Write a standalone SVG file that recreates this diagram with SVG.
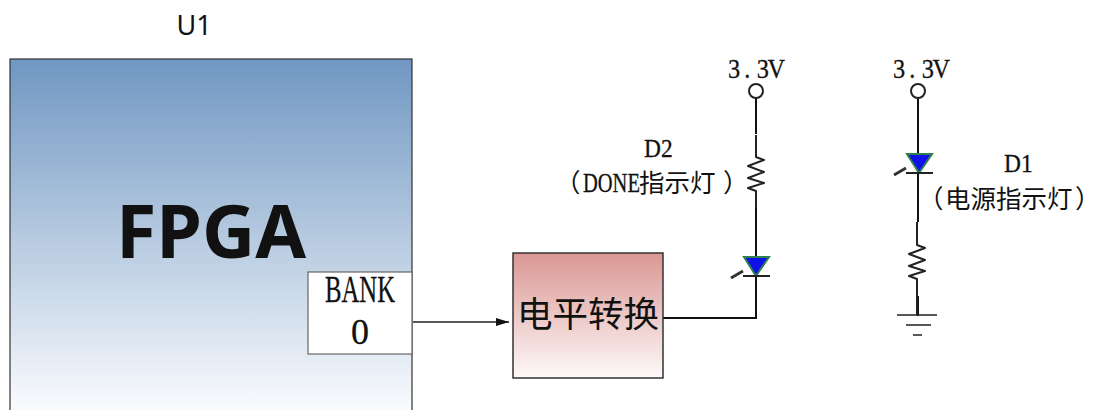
<svg xmlns="http://www.w3.org/2000/svg" width="1102" height="410" viewBox="0 0 1102 410">
<style>
.s{font-family:"Liberation Serif","Noto Sans CJK SC",serif;fill:#111;stroke:#111;stroke-width:.3}
.k{font-family:"Noto Sans CJK SC","Liberation Serif",sans-serif;fill:#111;font-size:25.500px}
.w{fill:none;stroke:#111;stroke-width:2}
.g{fill:none;stroke:#222;stroke-width:2;stroke-linejoin:round}
.c{fill:#fff;stroke:#222;stroke-width:2}
</style>
<defs>
<linearGradient id="fg" x1="0" y1="0" x2="0" y2="1"><stop offset="0" stop-color="#7097c2"/><stop offset="1" stop-color="#fbfcfe"/></linearGradient>
<linearGradient id="lv" x1="0" y1="0" x2="0" y2="1"><stop offset="0" stop-color="#da9793"/><stop offset="1" stop-color="#fdf9f9"/></linearGradient>
<marker id="ah" markerUnits="userSpaceOnUse" markerWidth="13" markerHeight="10" refX="13" refY="5" orient="auto"><path d="M0 1L13 5L0 9Z" fill="#111"/></marker>
<g id="led"><path d="M-12 -13H13L0 6Z" fill="#1010e8" stroke="#2f7f4f" stroke-width="2"/><path d="M-13 6H14" stroke="#222" stroke-width="2"/><path d="M-25 8L-13 1" stroke="#333" stroke-width="3"/></g>
</defs>
<g id="connectors">
<path d="M413 322H509" fill="none" stroke="#222" stroke-width="1.5" marker-end="url(#ah)"/>
<path class="w" d="M663 318H756V98"/>
<path class="w" d="M918 98V316"/>
</g>
<g id="u1">
<text x="194" y="35" font-family="Noto Sans,sans-serif" font-size="27" text-anchor="middle" fill="#111">U1</text>
<rect x="10" y="59" width="402" height="355" fill="url(#fg)" stroke="#333" stroke-width="1.2"/>
<text x="211" y="258" font-family="Noto Sans,sans-serif" font-size="73.500" font-weight="700" text-anchor="middle" fill="#111">FPGA</text>
</g>
<g id="bank0">
<rect x="308" y="272" width="104" height="82" fill="#fff" stroke="#666" stroke-width="1.2"/>
<text class="s" x="325" y="302" font-size="37" textLength="70" lengthAdjust="spacingAndGlyphs">BANK</text>
<text class="s" x="360" y="344" font-size="36" text-anchor="middle">0</text>
</g>
<g id="level-shifter">
<rect x="513" y="253" width="150" height="125" fill="url(#lv)" stroke="#333" stroke-width="1.5"/>
<text x="588" y="327" font-family="Noto Sans CJK SC,sans-serif" font-size="35.500" text-anchor="middle" fill="#111">电平转换</text>
</g>
<g id="d2">
<text class="s" transform="translate(728 78) scale(.9 1)" x="0 18 32 44" font-size="27">3.3V</text>
<circle class="c" cx="756" cy="91" r="7"/>
<path d="M748 134H764V208H748Z" fill="#fff"/>
<path class="g" d="M756 135V157L764 160L748 166L764 172L748 178L764 183L748 188L756 191V208"/>
<use href="#led" x="756" y="270"/>
<text class="s" transform="translate(644 156.500) scale(.9 1)" font-size="26">D2</text>
<text class="k" x="555" y="192">（</text>
<text class="s" transform="translate(583 191.500) scale(.76 1)" font-size="27">DONE</text>
<text class="k" x="639" y="192">指示灯</text>
<text class="k" x="723" y="192">）</text>
</g>
<g id="d1">
<text class="s" transform="translate(893 78) scale(.9 1)" x="0 18 32 44" font-size="27">3.3V</text>
<circle class="c" cx="918" cy="91" r="7"/>
<use href="#led" x="919" y="167"/>
<path d="M909 222H925V296H909Z" fill="#fff"/>
<path class="g" d="M917 222V245L925 248L909 254L925 260L909 266L925 271L909 276L917 279V296V315"/>
<text class="s" transform="translate(1004 171.500) scale(.9 1)" font-size="26">D1</text>
<text class="k" x="918" y="207.500">（</text>
<text class="k" x="945" y="207.500">电源指示灯</text>
<text class="k" x="1075" y="207.500">）</text>
<path d="M897 315H937M906 325H931M913 335H922" stroke="#222" stroke-width="1.5" fill="none"/>
</g>
</svg>
